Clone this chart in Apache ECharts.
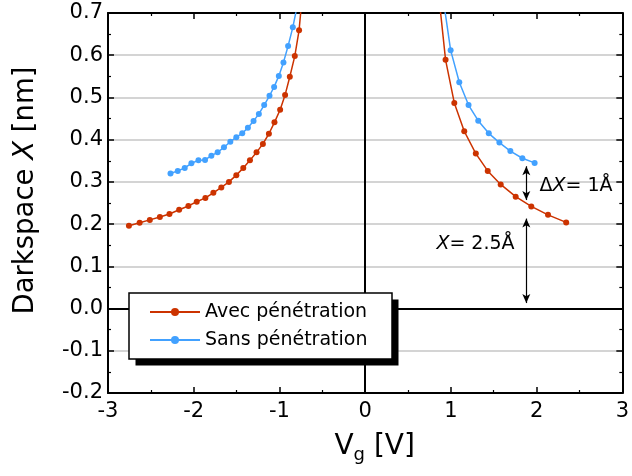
<!DOCTYPE html>
<html><head><meta charset="utf-8">
<script src="https://cdn.jsdelivr.net/npm/echarts@6/dist/echarts.min.js"></script>
<style>html,body{margin:0;padding:0;background:#fff}#c{width:632px;height:476px}</style>
</head><body><div id="c"></div>
<script>
// ---- data ----
const seriesNames = ['Avec pénétration', 'Sans pénétration'];
// Avec pénétration, negative branch (last point lies above the frame, line leaves through the top)
const avecLeftX = [-2.756,-2.631,-2.512,-2.395,-2.283,-2.170,-2.062,-1.965,-1.864,-1.771,-1.678,-1.589,-1.503,-1.422,-1.344,-1.267,-1.193,-1.123,-1.058,-0.992,-0.934,-0.879,-0.821,-0.771,-0.730];
const avecLeftY = [0.196,0.203,0.210,0.217,0.224,0.234,0.243,0.253,0.262,0.274,0.287,0.300,0.316,0.333,0.351,0.370,0.390,0.414,0.441,0.471,0.506,0.549,0.598,0.659,0.750];
// Avec pénétration, positive branch
const avecRightX = [0.870,0.938,1.040,1.156,1.291,1.430,1.581,1.756,1.938,2.133,2.345];
const avecRightY = [0.720,0.589,0.487,0.420,0.367,0.326,0.294,0.265,0.242,0.222,0.204];
// Sans pénétration, negative branch
const sansLeftX = [-2.271,-2.186,-2.105,-2.027,-1.945,-1.868,-1.794,-1.721,-1.647,-1.573,-1.503,-1.434,-1.368,-1.302,-1.240,-1.178,-1.116,-1.062,-1.007,-0.953,-0.899,-0.844,-0.790];
const sansLeftY = [0.320,0.326,0.333,0.344,0.351,0.352,0.362,0.370,0.382,0.395,0.406,0.415,0.428,0.444,0.461,0.482,0.504,0.525,0.551,0.583,0.622,0.666,0.720];
// Sans pénétration, positive branch
const sansRightX = [0.920,0.997,1.098,1.206,1.319,1.442,1.566,1.694,1.834,1.977];
const sansRightY = [0.720,0.612,0.536,0.482,0.445,0.415,0.393,0.373,0.356,0.345];
// annotations
const arrowX = 1.88;
const deltaArrowY = [0.337, 0.257];
const xArrowY = [0.213, 0.013];
const deltaLabelPos = [2.46, 0.29];
const xLabelPos = [1.287, 0.153];
// axes
const xRange = [-3, 3], yRange = [-0.2, 0.7];

const FONT = 'DejaVu Sans';
const RED = '#cc3300', BLUE = '#42a1ff';
const zip = (xs, ys) => xs.map((x, i) => [x, ys[i]]);

function lineSeries(name, color, xs, ys, extra) {
  return Object.assign({
    name, type: 'line', data: zip(xs, ys), clip: true,
    symbol: 'circle', symbolSize: 6, showSymbol: true,
    itemStyle: { color }, lineStyle: { color, width: 1.5 },
    emphasis: { disabled: true }, animation: false, z: 3
  }, extra || {});
}

const axisCommon = {
  axisLine: { show: true, onZero: false, lineStyle: { color: '#000', width: 2 } },
  axisTick: { show: true, inside: true, length: 6, lineStyle: { color: '#000', width: 1.5 } },
  minorTick: { show: true, splitNumber: 2, length: 3, lineStyle: { color: '#000', width: 1.2 } }
};

// legend frame (box + drop shadow), layout only
const legendBox = { x: 129, y: 293, w: 263, h: 66, shadow: 6.5 };

const chart = echarts.init(document.getElementById('c'), null, { renderer: 'canvas' });
chart.setOption({
  animation: false,
  backgroundColor: '#fff',
  grid: { left: 108, right: 8, top: 13, bottom: 83, containLabel: false },
  graphic: [
    { type: 'rect', z: 50, silent: true,
      shape: { x: legendBox.x + legendBox.shadow, y: legendBox.y + legendBox.shadow, width: legendBox.w, height: legendBox.h },
      style: { fill: '#000' } },
    { type: 'rect', z: 51, silent: true,
      shape: { x: legendBox.x, y: legendBox.y, width: legendBox.w, height: legendBox.h },
      style: { fill: '#fff', stroke: '#000', lineWidth: 1.5 } }
  ],
  legend: {
    orient: 'vertical', left: legendBox.x, top: legendBox.y, z: 60,
    itemWidth: 50, itemHeight: 10, itemGap: 6,
    padding: [8, 22, 8, 20],
    textStyle: { fontFamily: FONT, fontSize: 19, color: '#000', lineHeight: 22 },
    data: seriesNames
  },
  xAxis: [
    Object.assign({
      type: 'value', min: xRange[0], max: xRange[1], interval: 1, position: 'bottom',
      axisLabel: { fontFamily: FONT, fontSize: 21, color: '#000', margin: 8 },
      splitLine: { show: false },
      name: '{a|V}{s|g}{a| [V]}', nameLocation: 'middle', nameGap: 37,
      nameTextStyle: { padding: [0, 0, 0, 19], rich: {
        a: { fontFamily: FONT, fontSize: 28, color: '#000' },
        s: { fontFamily: FONT, fontSize: 18, color: '#000', padding: [16, 0, 0, 0] }
      } }
    }, axisCommon),
    Object.assign({
      type: 'value', min: xRange[0], max: xRange[1], interval: 1, position: 'top',
      axisLabel: { show: false }, splitLine: { show: false }
    }, axisCommon)
  ],
  yAxis: [
    Object.assign({
      type: 'value', min: yRange[0], max: yRange[1], interval: 0.1, position: 'left',
      axisLabel: { fontFamily: FONT, fontSize: 21, color: '#000', margin: 5,
        formatter: v => (Math.abs(v) < 1e-9 ? 0 : v).toFixed(1) },
      splitLine: { show: true, lineStyle: { color: '#c6c6c6', width: 1.5 } },
      name: '{a|Darkspace }{i|X}{a| [nm]}', nameLocation: 'middle', nameGap: 68, nameRotate: 90,
      nameTextStyle: { padding: [0, 0, 0, 25], rich: {
        a: { fontFamily: FONT, fontSize: 27.5, color: '#000' },
        i: { fontFamily: FONT, fontSize: 27.5, color: '#000', fontStyle: 'italic' }
      } }
    }, axisCommon),
    Object.assign({
      type: 'value', min: yRange[0], max: yRange[1], interval: 0.1, position: 'right',
      axisLabel: { show: false }, splitLine: { show: false }
    }, axisCommon)
  ],
  series: [
    lineSeries(seriesNames[0], RED, avecLeftX, avecLeftY, {
      markLine: {
        silent: true, symbol: 'none', animation: false,
        label: { show: false },
        lineStyle: { color: '#000', width: 2, type: 'solid' },
        data: [{ xAxis: 0 }, { yAxis: 0 }], z: 2
      }
    }),
    lineSeries(seriesNames[0], RED, avecRightX, avecRightY, {
      markLine: {
        silent: true, symbol: ['arrow', 'arrow'], symbolSize: [6, 9], animation: false,
        label: { show: false },
        lineStyle: { color: '#000', width: 1.2, type: 'solid' },
        data: [
          [{ coord: [arrowX, deltaArrowY[0]] }, { coord: [arrowX, deltaArrowY[1]] }],
          [{ coord: [arrowX, xArrowY[0]] }, { coord: [arrowX, xArrowY[1]] }]
        ]
      },
      markPoint: {
        silent: true, symbol: 'circle', symbolSize: 0, animation: false,
        label: { show: true, position: 'inside', color: '#000', fontFamily: FONT, fontSize: 19,
          rich: {
            n: { fontFamily: FONT, fontSize: 19, color: '#000' },
            i: { fontFamily: FONT, fontSize: 19, color: '#000', fontStyle: 'italic' }
          } },
        data: [
          { coord: deltaLabelPos, label: { formatter: '{n|Δ}{i|X}{n|= 1Å}' } },
          { coord: xLabelPos, label: { formatter: '{i|X}{n|= 2.5Å}' } }
        ]
      }
    }),
    lineSeries(seriesNames[1], BLUE, sansLeftX, sansLeftY),
    lineSeries(seriesNames[1], BLUE, sansRightX, sansRightY)
  ]
});
</script></body></html>
